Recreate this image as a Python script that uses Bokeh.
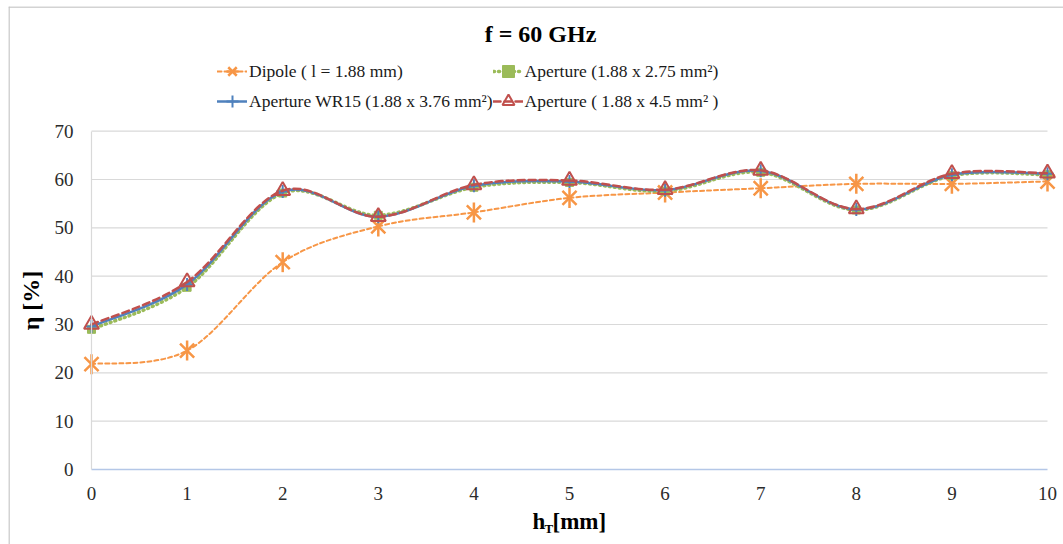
import math
from bokeh.plotting import figure
from bokeh.models import Range1d, SingleIntervalTicker, Label, Legend, LegendItem, ColumnDataSource, Span
from bokeh.embed import file_html
from bokeh.resources import INLINE

# ---- data ----
h_t = [0, 1, 2, 3, 4, 5, 6, 7, 8, 9, 10]
dipole = [21.8, 24.6, 42.9, 50.3, 53.2, 56.2, 57.3, 58.2, 59.1, 59.1, 59.6]
ap_275 = [29.0, 37.7, 57.2, 52.6, 58.4, 59.4, 57.6, 61.5, 53.7, 60.8, 61.0]
ap_wr15 = [29.6, 38.3, 57.5, 52.3, 58.7, 59.6, 57.8, 61.8, 53.8, 61.0, 61.2]
ap_45 = [30.0, 38.8, 57.7, 52.3, 58.9, 59.8, 57.9, 61.9, 53.9, 61.2, 61.3]
names = ["Dipole ( l = 1.88 mm)", "Aperture (1.88 x 2.75 mm\u00b2)",
         "Aperture WR15 (1.88 x 3.76 mm\u00b2)", "Aperture ( 1.88 x 4.5 mm\u00b2 )"]
y_ticks = [0, 10, 20, 30, 40, 50, 60, 70]
title_text = "f = 60 GHz"

SERIF = "Liberation Serif"
ORANGE, GREEN, BLUE, RED = "#F79646", "#9BBB59", "#4F81BD", "#C0504D"


def smooth(xs, ys):
    n = len(xs)
    d = dict(x0=[], y0=[], x1=[], y1=[], cx0=[], cy0=[], cx1=[], cy1=[])
    for i in range(n - 1):
        im = max(i - 1, 0)
        ip = min(i + 2, n - 1)
        d["x0"].append(xs[i]); d["y0"].append(ys[i])
        d["x1"].append(xs[i + 1]); d["y1"].append(ys[i + 1])
        d["cx0"].append(xs[i] + (xs[i + 1] - xs[im]) / 6)
        d["cy0"].append(ys[i] + (ys[i + 1] - ys[im]) / 6)
        d["cx1"].append(xs[i + 1] - (xs[ip] - xs[i]) / 6)
        d["cy1"].append(ys[i + 1] - (ys[ip] - ys[i]) / 6)
    return ColumnDataSource(d)


# frame covers (8,6)-(1063,544); data x 0..10 -> px 91..1047, y 0..70 -> px 469..130.7
p = figure(width=1063, height=544,
           x_range=Range1d(-0.8682, 10.1674), y_range=Range1d(-15.52, 95.80),
           output_backend="svg", toolbar_location=None,
           min_border_left=8, min_border_right=0, min_border_top=6, min_border_bottom=0,
           background_fill_color="white", border_fill_color="white")
p.outline_line_color = None
p.xgrid.visible = False
p.ygrid.visible = False

# chart border (left and top)
p.add_layout(Span(location=0.5, location_units="screen", dimension="height",
                  line_color="#c4c4c4", line_width=1.5))
p.add_layout(Span(location=537.5, location_units="screen", dimension="width",
                  line_color="#c4c4c4", line_width=1.5))

# horizontal grid lines
grid_y = y_ticks[1:]
p.segment(x0=[h_t[0]] * len(grid_y), x1=[h_t[-1]] * len(grid_y), y0=grid_y, y1=grid_y,
          line_color="#d9d9d9", line_width=1.2)

# axes
p.xaxis.fixed_location = 0
p.xaxis.bounds = (0, 10)
p.xaxis.ticker = SingleIntervalTicker(interval=1)
p.xaxis.axis_line_color = "#b4c7e7"
p.xaxis.axis_line_width = 1.5
p.xaxis.major_tick_line_color = None
p.xaxis.minor_tick_line_color = None
p.xaxis.major_tick_out = 0
p.xaxis.major_label_standoff = 14
p.yaxis.fixed_location = 0
p.yaxis.bounds = (0, 70)
p.yaxis.ticker = SingleIntervalTicker(interval=10)
p.yaxis.axis_line_color = "#d9d9d9"
p.yaxis.axis_line_width = 1.2
p.yaxis.major_tick_line_color = None
p.yaxis.minor_tick_line_color = None
p.yaxis.major_tick_out = 0
p.yaxis.major_label_standoff = 14
for ax in (p.xaxis[0], p.yaxis[0]):
    ax.major_label_text_font = SERIF
    ax.major_label_text_font_size = "19px"
    ax.major_label_text_color = "#2b2b2b"
p.yaxis.axis_label = "\u03b7 [%]"
p.yaxis.axis_label_text_font = SERIF
p.yaxis.axis_label_text_font_size = "24px"
p.yaxis.axis_label_text_font_style = "bold"
p.yaxis.axis_label_text_color = "#000000"
p.yaxis.axis_label_standoff = 8

# series: (values, colour, dash, line width, markers [(marker, size, angle)], marker line width, fill)
styles = [
    (dipole, ORANGE, "4 3", 2.0, [("x", 20, 0.0), ("dash", 20, math.pi / 2)], 2.5, ORANGE),
    (ap_275, GREEN, "1 4", 3.5, [("square", 8, 0.0)], 1.0, GREEN),
    (ap_wr15, BLUE, "solid", 2.5, [("cross", 13, 0.0)], 2.0, BLUE),
    (ap_45, RED, "7 4", 2.5, [("triangle", 15, 0.0)], 2.0, None),
]
items = []
for (ys, col, dash, lw, marks, mlw, fill), name in zip(styles, names):
    src = smooth(h_t, ys)
    rends = [p.bezier(x0="x0", y0="y0", x1="x1", y1="y1", cx0="cx0", cy0="cy0", cx1="cx1", cy1="cy1",
                      source=src, line_color=col, line_width=lw, line_dash=dash, line_cap="round")]
    for mk, sz, ang in marks:
        rends.append(p.scatter(h_t, ys, marker=mk, size=sz, angle=ang, line_color=col,
                               line_width=mlw, fill_color=fill if fill else None))
    items.append(LegendItem(label=name, renderers=rends))

leg = Legend(items=items, location=(209, 428), orientation="horizontal", ncols=2,
             label_text_font=SERIF, label_text_font_size="17.5px", label_text_color="#1a1a1a",
             glyph_width=30, glyph_height=30, label_height=30, label_standoff=2,
             spacing=0, padding=0, margin=0, border_line_color=None, background_fill_alpha=0)
p.add_layout(leg, "center")

# title (screen units relative to frame bottom-left at page (8, 544))
p.add_layout(Label(x=532, y=511, x_units="screen", y_units="screen", text=title_text,
                   text_font=SERIF, text_font_size="24px", text_font_style="bold",
                   text_align="center", text_baseline="middle", text_color="#000000"))
# x axis label with subscript
p.add_layout(Label(x=524, y=23, x_units="screen", y_units="screen", text="h",
                   text_font=SERIF, text_font_size="23px", text_font_style="bold",
                   text_align="left", text_baseline="middle", text_color="#000000"))
p.add_layout(Label(x=536, y=16, x_units="screen", y_units="screen", text="T",
                   text_font=SERIF, text_font_size="13px", text_font_style="bold",
                   text_align="left", text_baseline="middle", text_color="#000000"))
p.add_layout(Label(x=544, y=23, x_units="screen", y_units="screen", text="[mm]",
                   text_font=SERIF, text_font_size="23px", text_font_style="bold",
                   text_align="left", text_baseline="middle", text_color="#000000"))

open("out.html", "w").write(file_html(p, INLINE))
